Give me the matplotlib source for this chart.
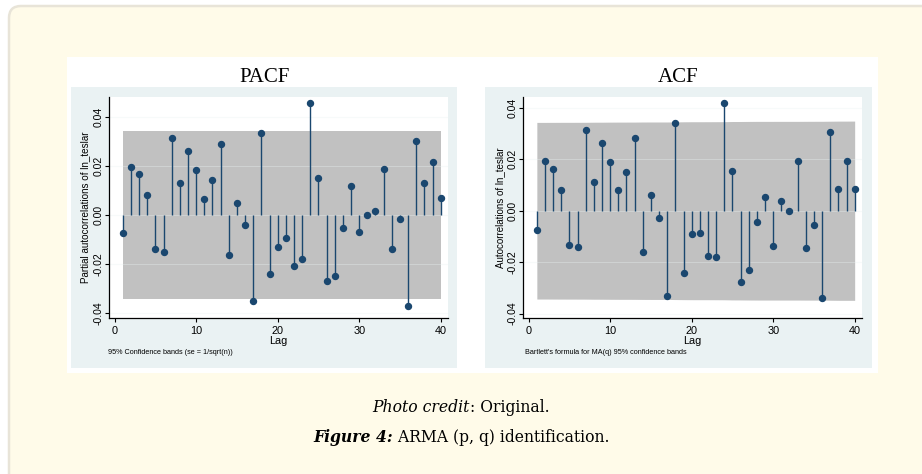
import matplotlib
matplotlib.use("Agg")
import matplotlib.pyplot as plt
import numpy as np
from matplotlib.patches import FancyBboxPatch, Rectangle

# ---------------- data ----------------
lags = list(range(1, 41))
pacf_values = [-0.0075, 0.0196, 0.0167, 0.0082, -0.0140, -0.0150, 0.0316, 0.0130,
               0.0264, 0.0183, 0.0066, 0.0144, 0.0291, -0.0163, 0.0048, -0.0041,
               -0.0352, 0.0337, -0.0241, -0.0130, -0.0093, -0.0208, -0.0179, 0.0458,
               0.0153, -0.0271, -0.0248, -0.0052, 0.0120, -0.0068, 0.0001, 0.0016,
               0.0187, -0.0140, -0.0016, -0.0372, 0.0305, 0.0131, 0.0216, 0.0071]
acf_values = [-0.0075, 0.0194, 0.0161, 0.0081, -0.0134, -0.0140, 0.0312, 0.0111,
              0.0264, 0.0189, 0.0081, 0.0150, 0.0283, -0.0160, 0.0061, -0.0027,
              -0.0333, 0.0339, -0.0242, -0.0090, -0.0087, -0.0177, -0.0179, 0.0417,
              0.0155, -0.0278, -0.0229, -0.0044, 0.0055, -0.0138, 0.0036, 0.0000,
              0.0194, -0.0146, -0.0056, -0.0338, 0.0307, 0.0086, 0.0194, 0.0086]
n_obs = 3260  # estimated sample size behind the confidence bands

x_ticks = [0, 10, 20, 30, 40]
x_tick_labels = ["0", "10", "20", "30", "40"]
y_ticks = [-0.04, -0.02, 0.0, 0.02, 0.04]
y_tick_labels = ["-0.04", "-0.02", "0.00", "0.02", "0.04"]
panel_titles = ["PACF", "ACF"]
y_axis_labels = ["Partial autocorrelations of ln_teslar", "Autocorrelations of ln_teslar"]
x_axis_label = "Lag"
notes = ["95% Confidence bands (se = 1/sqrt(n))",
         "Bartlett's formula for MA(q) 95% confidence bands"]
caption_line1 = [("Photo credit", "italic", "normal"), (": Original.", "normal", "normal")]
caption_line2 = [("Figure 4:", "italic", "bold"), (" ARMA (p, q) identification.", "normal", "normal")]

# confidence bands
pacf_band = np.full(len(lags), 1.96 / np.sqrt(n_obs))
acf_arr = np.array(acf_values)
cum = np.concatenate([[0.0], np.cumsum(acf_arr ** 2)[:-1]])
acf_band = 1.96 * np.sqrt((1 + 2 * cum) / n_obs)

# ---------------- style ----------------
W, H = 922, 474
navy = "#1a476f"
band_col = "#c1c1c1"
panel_col = "#eaf2f3"
sans = "Liberation Sans"
serif = "Liberation Serif"

fig = plt.figure(figsize=(W / 100, H / 100), dpi=100)
fig.patch.set_facecolor("white")

bg = fig.add_axes([0, 0, 1, 1])
bg.set_xlim(0, W)
bg.set_ylim(H, 0)
bg.axis("off")

bg.add_patch(FancyBboxPatch((9, 6), W + 40, H + 40,
                            boxstyle="round,pad=0,rounding_size=12",
                            fc="#fffbe9", ec="#e8e4d8", lw=1.8))
bg.add_patch(Rectangle((67, 57), 811, 316, fc="white", ec="none"))
bg.add_patch(Rectangle((71, 87), 386, 281, fc=panel_col, ec="none"))
bg.add_patch(Rectangle((485, 87), 387, 281, fc=panel_col, ec="none"))

bg.text(265, 77, panel_titles[0], ha="center", va="center", fontsize=15, family=serif)
bg.text(678, 77, panel_titles[1], ha="center", va="center", fontsize=15, family=serif)

bg.text(108, 353, notes[0], ha="left", va="center", fontsize=5.2, family=sans)
bg.text(525, 353, notes[1], ha="left", va="center", fontsize=5.2, family=sans)

ax_top, ax_bot = 97, 318
specs = [
    (109, 448, 85, 7.1, pacf_values, pacf_band, (-0.0421, 0.0483), y_axis_labels[0]),
    (523, 862, 500, 7.0, acf_values, acf_band, (-0.0417, 0.0442), y_axis_labels[1]),
]
for left, right, ylab_x, ylab_size, vals, band, ylim, ylab in specs:
    ax = fig.add_axes([left / W, 1 - ax_bot / H, (right - left) / W, (ax_bot - ax_top) / H])
    ax.set_facecolor("white")
    ax.set_xlim(-0.7, 40.9)
    ax.set_ylim(*ylim)
    ax.fill_between(lags, -band, band, color=band_col, lw=0, zorder=1)
    for yt in y_ticks:
        ax.axhline(yt, color="#eaf2f3", lw=0.8, alpha=0.35, zorder=1.5)
    ax.vlines(lags, 0, vals, color=navy, lw=1.0, zorder=3)
    ax.plot(lags, vals, "o", ms=4.3, color=navy, zorder=4)
    for s in ["top", "right"]:
        ax.spines[s].set_visible(False)
    for s in ["left", "bottom"]:
        ax.spines[s].set_color("black")
        ax.spines[s].set_linewidth(0.9)
    ax.set_xticks(x_ticks)
    ax.set_xticklabels(x_tick_labels, fontsize=7.8, family=sans)
    ax.set_yticks(y_ticks)
    ax.set_yticklabels(y_tick_labels, fontsize=7.5, family=sans, rotation=90, va="center")
    ax.tick_params(direction="out", length=3, width=0.8)
    ax.tick_params(axis="x", pad=3)
    ax.tick_params(axis="y", pad=0.8)
    ax.set_xlabel(x_axis_label, fontsize=7.8, family=sans, va="center")
    ax.xaxis.set_label_coords(0.5, -(341.5 - ax_bot) / (ax_bot - ax_top))
    ax.set_ylabel(ylab, fontsize=ylab_size, family=sans, va="center")
    ax.yaxis.set_label_coords((ylab_x - left) / (right - left), 0.5)

# ---------------- caption ----------------
renderer = fig.canvas.get_renderer()


def draw_line(pieces, yc, size, family):
    texts = []
    for s, style, weight in pieces:
        t = bg.text(0, yc, s, ha="left", va="center", fontsize=size,
                    family=family, style=style, weight=weight)
        texts.append(t)
    widths = [t.get_window_extent(renderer).width for t in texts]
    total = sum(widths)
    x = W / 2 - total / 2
    for t, w in zip(texts, widths):
        t.set_x(x)
        x += w
    return total


cap_family = "DejaVu Serif"
# pick the caption size so the second line spans about 297 px, as in the reference
probe = draw_line(caption_line2, -100, 10, cap_family)
cap_size = 10 * 297 / probe
for t in list(bg.texts)[-2:]:
    t.remove()
draw_line(caption_line1, 408, cap_size, cap_family)
draw_line(caption_line2, 437, cap_size, cap_family)

fig.savefig("out.png", dpi=100)
